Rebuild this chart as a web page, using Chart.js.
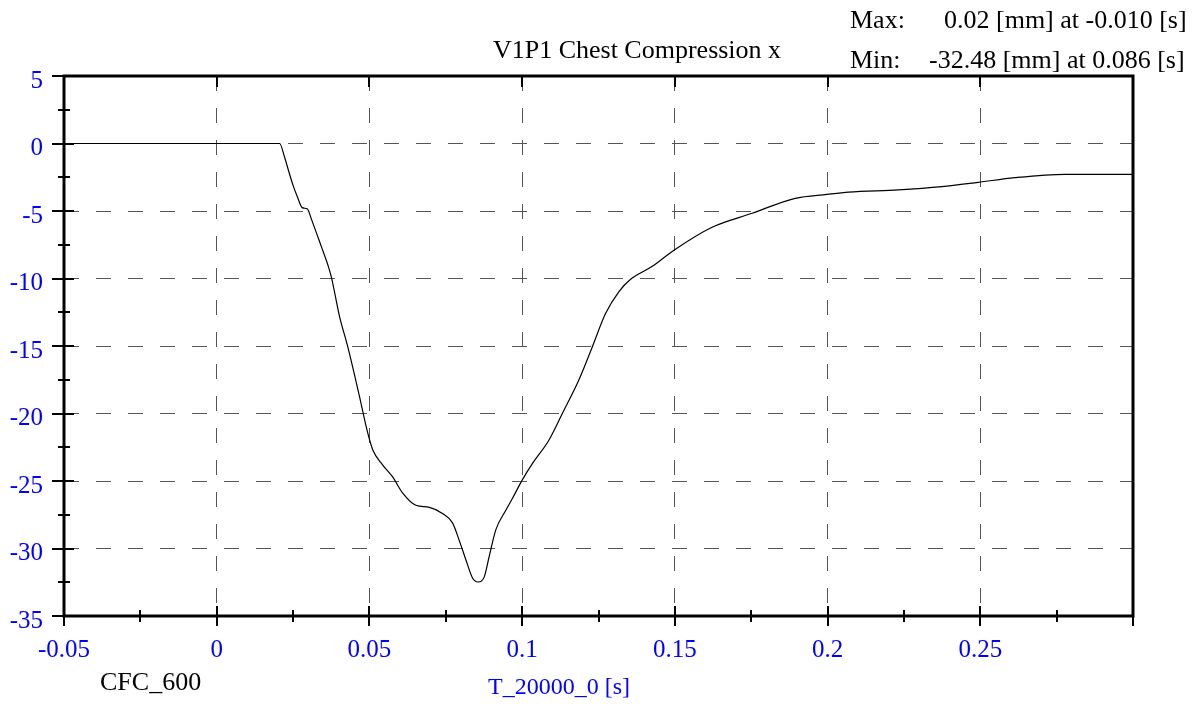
<!DOCTYPE html>
<html>
<head>
<meta charset="utf-8">
<script src="https://cdn.jsdelivr.net/npm/chart.js@4.4.1/dist/chart.umd.min.js"></script>
<style>
html,body{margin:0;padding:0;background:#fff;}
#wrap{width:1200px;height:704px;position:relative;}
</style>
</head>
<body>
<div id="wrap"><canvas id="c" width="1200" height="704"></canvas></div>
<script>
const chartTitle = "V1P1 Chest Compression x";
const xAxisTitle = "T_20000_0 [s]";
const filterLabel = "CFC_600";
const maxLabel = "0.02 [mm] at -0.010 [s]";
const minLabel = "-32.48 [mm] at 0.086 [s]";

const timeValues = [-0.05, 0.0, 0.0206, 0.0222, 0.0235, 0.025, 0.0265, 0.028, 0.0297, 0.031,
  0.0342, 0.0364, 0.0375, 0.0402, 0.0429, 0.0467, 0.0494, 0.0511, 0.0543, 0.0576,
  0.0609, 0.0652, 0.0696, 0.0739, 0.0772, 0.0794, 0.0816, 0.0838, 0.0856, 0.0876,
  0.0892, 0.0914, 0.0947, 0.0968, 0.1001, 0.1034, 0.1088, 0.1132, 0.1186, 0.123,
  0.1273, 0.1317, 0.1355, 0.1426, 0.1497, 0.1622, 0.1753, 0.1894, 0.1998, 0.2069,
  0.2232, 0.2374, 0.2493, 0.2613, 0.2777, 0.2999];
const compressionValues = [0, 0, 0, -1.0, -2.0, -3.1, -4.0, -4.75, -4.85, -5.6,
  -7.6, -9.0, -9.86, -12.8, -15.05, -18.7, -21.4, -22.7, -23.8, -24.7,
  -25.9, -26.8, -26.95, -27.4, -28.1, -29.4, -30.85, -32.2, -32.48, -32.1,
  -30.6, -28.6, -27.15, -26.3, -24.9, -23.7, -21.96, -19.98, -17.5, -15.05,
  -12.6, -10.97, -10.06, -9.1, -7.9, -6.2, -5.17, -4.06, -3.77, -3.6,
  -3.44, -3.2, -2.88, -2.53, -2.28, -2.28];

const xMin = -0.05, xMax = 0.3, xStep = 0.05;
const yMin = -35, yMax = 5, yStep = 5;

const points = timeValues.map((t, i) => ({x: t, y: compressionValues[i]}));

const serif = "'Liberation Serif', 'Times New Roman', serif";
const blue = '#0000ff';

function isEdge(v, lo, hi){ return Math.abs(v - lo) < 1e-9 || Math.abs(v - hi) < 1e-9; }

const framePlugin = {
  id: 'frame',
  afterDraw(chart){
    const ctx = chart.ctx, a = chart.chartArea;
    const xs = chart.scales.x, ys = chart.scales.y;
    ctx.save();
    ctx.strokeStyle = '#000';
    ctx.lineWidth = 3;
    ctx.strokeRect(a.left, a.top, a.right - a.left, a.bottom - a.top);
    ctx.lineWidth = 2;
    ctx.beginPath();
    for (let v = yMin; v <= yMax + 1e-9; v += yStep/2){
      const p = Math.round(ys.getPixelForValue(v));
      const major = Math.abs(Math.round(v / yStep) * yStep - v) < 1e-9;
      if (major){ ctx.moveTo(a.left - 12, p); ctx.lineTo(a.left + 10, p); }
      else { ctx.moveTo(a.left - 6, p); ctx.lineTo(a.left + 6, p); }
    }
    for (let i = 0; i <= Math.round((xMax - xMin)/(xStep/2)); i++){
      const v = xMin + i * xStep/2;
      const p = Math.round(xs.getPixelForValue(v));
      const major = i % 2 === 0;
      if (major){
        ctx.moveTo(p, a.bottom - 10); ctx.lineTo(p, a.bottom + 10);
        if (!isEdge(v, xMin, xMax)){ ctx.moveTo(p, a.top); ctx.lineTo(p, a.top + 11); }
      } else { ctx.moveTo(p, a.bottom - 6); ctx.lineTo(p, a.bottom + 6); }
    }
    ctx.stroke();
    ctx.fillStyle = '#000';
    ctx.textBaseline = 'alphabetic';
    ctx.font = '26px ' + serif;
    ctx.textAlign = 'center';
    ctx.fillText(chartTitle, 637, 58);
    ctx.textAlign = 'left';
    ctx.fillText('Max:', 850, 28);
    ctx.fillText(maxLabel, 944, 28);
    ctx.fillText('Min:', 850, 68);
    ctx.fillText(minLabel, 929, 68);
    ctx.fillText(filterLabel, 100, 690);
    ctx.fillStyle = blue;
    ctx.font = '24px ' + serif;
    ctx.textAlign = 'center';
    ctx.fillText(xAxisTitle, 559, 694);
    ctx.restore();
  }
};

new Chart(document.getElementById('c'), {
  type: 'line',
  data: {
    datasets: [{
      data: points,
      borderColor: '#000',
      borderWidth: 1.2,
      pointRadius: 0,
      fill: false,
      cubicInterpolationMode: 'monotone'
    }]
  },
  options: {
    responsive: false,
    animation: false,
    devicePixelRatio: 1,
    layout: { padding: { top: 76, right: 67, left: 0, bottom: 0 } },
    plugins: { legend: { display: false }, tooltip: { enabled: false }, title: { display: false } },
    scales: {
      x: {
        type: 'linear', min: xMin, max: xMax,
        afterFit(s){ s.height = 88; },
        afterBuildTicks(s){
          const t = [];
          for (let i = 0; i <= Math.round((xMax - xMin)/xStep); i++) t.push({value: +(xMin + i*xStep).toFixed(4)});
          s.ticks = t;
        },
        ticks: {
          color: blue, font: { family: serif, size: 25 }, padding: 19, maxRotation: 0, autoSkip: false,
          callback(v){ return isEdge(v, xMax, xMax) ? '' : String(+v.toFixed(4)); }
        },
        grid: {
          drawTicks: false,
          color(c){ return c.tick && isEdge(c.tick.value, xMin, xMax) ? 'rgba(0,0,0,0)' : '#555'; },
          lineWidth: 1
        },
        border: { display: false, dash: [15, 17] }
      },
      y: {
        type: 'linear', min: yMin, max: yMax,
        afterFit(s){ s.width = 64; },
        ticks: {
          stepSize: yStep, color: blue, font: { family: serif, size: 25 }, padding: 21, autoSkip: false,
          labelOffset: 5,
          callback(v){ return String(v); }
        },
        grid: {
          drawTicks: false,
          color(c){ return c.tick && isEdge(c.tick.value, yMin, yMax) ? 'rgba(0,0,0,0)' : '#555'; },
          lineWidth: 1
        },
        border: { display: false, dash: [15, 17] }
      }
    }
  },
  plugins: [framePlugin]
});
</script>
</body>
</html>
